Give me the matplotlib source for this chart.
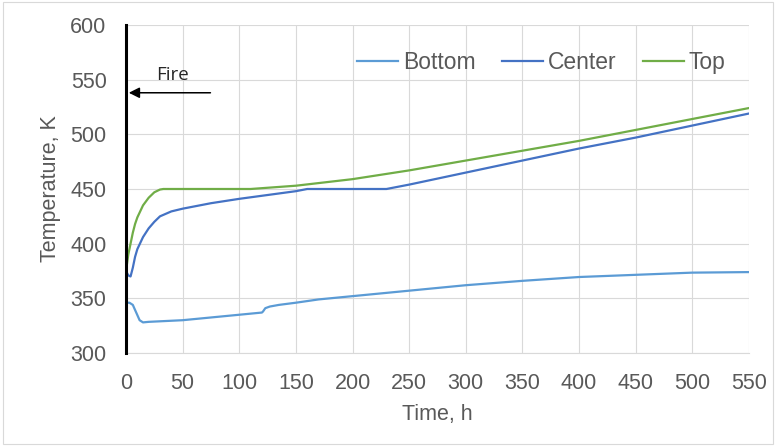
import matplotlib
matplotlib.use("Agg")
import matplotlib.pyplot as plt
from matplotlib.patches import Rectangle

# Data
bottom_t = [0, 3, 6, 9, 12, 15, 20, 30, 50, 80, 100, 120, 121, 123, 127, 135, 150, 170, 200, 250, 300, 350, 400, 450, 500, 550]
bottom_T = [346, 346, 344, 337, 330, 328, 328.5, 329, 330, 333, 335, 337, 338, 341, 342.5, 344, 346, 349, 352, 357, 362, 366, 369.5, 371.5, 373.5, 374]

center_t = [0, 2, 4, 6, 8, 10, 15, 20, 25, 30, 40, 50, 75, 100, 125, 150, 160, 200, 230, 250, 300, 350, 400, 450, 500, 550]
center_T = [375, 371, 370, 378, 388, 395, 406, 414, 420, 425, 429.5, 432, 437, 441, 444.5, 448, 450, 450, 450, 454, 465, 476, 487, 497, 508, 519]

top_t = [0, 2, 4, 6, 8, 10, 15, 20, 25, 30, 33, 50, 80, 110, 150, 200, 250, 300, 350, 400, 450, 500, 550]
top_T = [375, 390, 400, 410, 418, 424, 435, 442, 447, 449.5, 450, 450, 450, 450, 453, 459, 467, 476, 485, 494, 504, 514, 524]

series_names = ["Bottom", "Center", "Top"]
colors = ["#5B9BD5", "#4472C4", "#70AD47"]
x_ticks = list(range(0, 551, 50))
y_ticks = list(range(300, 601, 50))

plt.rcParams['font.family'] = ['Liberation Sans', 'DejaVu Sans']
FS = 15.5
GRAY = "#595959"

fig = plt.figure(figsize=(7.76, 4.46), dpi=100)
fig.patches.append(Rectangle((0.004, 0.004), 0.992, 0.992, transform=fig.transFigure,
                             fill=False, edgecolor="#D9D9D9", linewidth=0.8))
ax = fig.add_axes([0.1624, 0.2085, 0.8026, 0.7355])

for t, T, name, c in zip([bottom_t, center_t, top_t], [bottom_T, center_T, top_T], series_names, colors):
    ax.plot(t, T, color=c, linewidth=1.6, label=name, zorder=3)

ax.set_xlim(0, 550)
ax.set_ylim(300, 600)
ax.set_xticks(x_ticks)
ax.set_yticks(y_ticks)
ax.grid(True, color="#D9D9D9", linewidth=0.8)
ax.set_axisbelow(True)
for s in ["top", "right"]:
    ax.spines[s].set_visible(False)
ax.spines["bottom"].set_color("#D9D9D9")
ax.spines["left"].set_color("black")
ax.spines["left"].set_linewidth(2.2)
ax.spines["left"].set_zorder(5)
ax.tick_params(axis="both", length=0, labelsize=FS, labelcolor=GRAY)
ax.tick_params(axis="x", pad=14.5)
ax.tick_params(axis="y", pad=14)

ax.set_xlabel("Time, h", fontsize=FS, color=GRAY, labelpad=7)
ax.set_ylabel("Temperature, K", fontsize=FS, color=GRAY, labelpad=7)

ax.annotate("", xy=(0, 538), xytext=(77, 538),
            arrowprops=dict(arrowstyle="-|>", color="black", lw=1.1, mutation_scale=16), zorder=6)
ax.text(26.5, 554, "Fire", fontsize=13.5, color="#262626", family=["Open Sans", "DejaVu Sans"], va="center")

leg = ax.legend(loc="center left", ncol=3, frameon=False, fontsize=16.5, handlelength=1.8,
                columnspacing=1.15, handletextpad=0.2, bbox_to_anchor=(0.338, 0.885),
                labelcolor=GRAY)

fig.savefig("out.png", dpi=100)
